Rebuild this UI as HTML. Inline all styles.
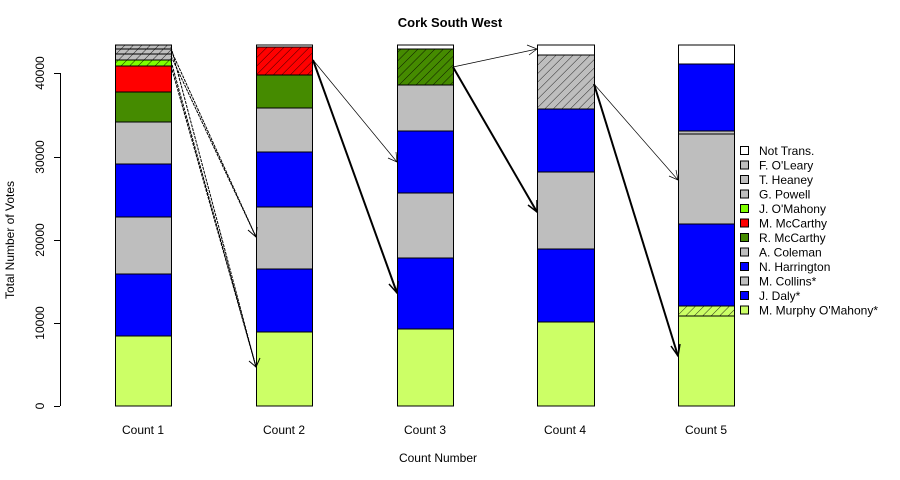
<!DOCTYPE html>
<html><head><meta charset="utf-8"><style>
body{margin:0;background:#fff;}
svg{display:block;font-family:"Liberation Sans",Arial,sans-serif;}
</style></head><body>
<svg width="900" height="480" viewBox="0 0 900 480" xmlns="http://www.w3.org/2000/svg">
<defs>
<pattern id="h" width="6" height="6" patternUnits="userSpaceOnUse" patternTransform="rotate(45)">
<line x1="0" y1="0" x2="0" y2="6" stroke="#000" stroke-width="0.8"/>
</pattern>
</defs>
<text x="450" y="27" font-size="13" font-weight="bold" text-anchor="middle">Cork South West</text>
<!-- axis -->
<g stroke="#000" stroke-width="1" fill="none">
<line x1="60.5" y1="73" x2="60.5" y2="406"/>
<line x1="54" y1="406.5" x2="60" y2="406.5"/>
<line x1="54" y1="323.5" x2="60" y2="323.5"/>
<line x1="54" y1="240.5" x2="60" y2="240.5"/>
<line x1="54" y1="157.5" x2="60" y2="157.5"/>
<line x1="54" y1="73.5" x2="60" y2="73.5"/>
</g>
<g font-size="12" text-anchor="middle">
<text transform="translate(44,406) rotate(-90)">0</text>
<text transform="translate(44,323) rotate(-90)">10000</text>
<text transform="translate(44,240) rotate(-90)">20000</text>
<text transform="translate(44,157) rotate(-90)">30000</text>
<text transform="translate(44,73) rotate(-90)">40000</text>
<text transform="translate(14,240) rotate(-90)">Total Number of Votes</text>
<text x="143" y="434">Count 1</text>
<text x="284" y="434">Count 2</text>
<text x="425" y="434">Count 3</text>
<text x="565" y="434">Count 4</text>
<text x="706" y="434">Count 5</text>
<text x="438" y="462">Count Number</text>
</g>
<g stroke="#000" stroke-width="1">
<!-- Count 1 -->
<rect x="115.5" y="336" width="56" height="70" fill="#ccff66"/>
<rect x="115.5" y="274" width="56" height="62" fill="#0000ff"/>
<rect x="115.5" y="217" width="56" height="57" fill="#bebebe"/>
<rect x="115.5" y="164" width="56" height="53" fill="#0000ff"/>
<rect x="115.5" y="122" width="56" height="42" fill="#bebebe"/>
<rect x="115.5" y="92" width="56" height="30" fill="#458b00"/>
<rect x="115.5" y="66" width="56" height="26" fill="#ff0000"/>
<rect x="115.5" y="60" width="56" height="6" fill="#7fff00"/>
<rect x="115.5" y="60" width="56" height="6" fill="url(#h)"/>
<rect x="115.5" y="54" width="56" height="6" fill="#bebebe"/>
<rect x="115.5" y="54" width="56" height="6" fill="url(#h)"/>
<rect x="115.5" y="49" width="56" height="5" fill="#bebebe"/>
<rect x="115.5" y="49" width="56" height="5" fill="url(#h)"/>
<rect x="115.5" y="45" width="56" height="4" fill="#bebebe"/>
<rect x="115.5" y="45" width="56" height="4" fill="url(#h)"/>
<!-- Count 2 -->
<rect x="256.5" y="332" width="56" height="74" fill="#ccff66"/>
<rect x="256.5" y="269" width="56" height="63" fill="#0000ff"/>
<rect x="256.5" y="207" width="56" height="62" fill="#bebebe"/>
<rect x="256.5" y="152" width="56" height="55" fill="#0000ff"/>
<rect x="256.5" y="108" width="56" height="44" fill="#bebebe"/>
<rect x="256.5" y="75" width="56" height="33" fill="#458b00"/>
<rect x="256.5" y="47" width="56" height="28" fill="#ff0000"/>
<rect x="256.5" y="47" width="56" height="28" fill="url(#h)"/>
<rect x="256.5" y="45" width="56" height="2" fill="#fff"/>
<!-- Count 3 -->
<rect x="397.5" y="329" width="56" height="77" fill="#ccff66"/>
<rect x="397.5" y="258" width="56" height="71" fill="#0000ff"/>
<rect x="397.5" y="193" width="56" height="65" fill="#bebebe"/>
<rect x="397.5" y="131" width="56" height="62" fill="#0000ff"/>
<rect x="397.5" y="85" width="56" height="46" fill="#bebebe"/>
<rect x="397.5" y="49" width="56" height="36" fill="#458b00"/>
<rect x="397.5" y="49" width="56" height="36" fill="url(#h)"/>
<rect x="397.5" y="45" width="56" height="4" fill="#fff"/>
<!-- Count 4 -->
<rect x="537.5" y="322" width="57" height="84" fill="#ccff66"/>
<rect x="537.5" y="249" width="57" height="73" fill="#0000ff"/>
<rect x="537.5" y="172" width="57" height="77" fill="#bebebe"/>
<rect x="537.5" y="109" width="57" height="63" fill="#0000ff"/>
<rect x="537.5" y="55" width="57" height="54" fill="#bebebe"/>
<rect x="537.5" y="55" width="57" height="54" fill="url(#h)"/>
<rect x="537.5" y="45" width="57" height="10" fill="#fff"/>
<!-- Count 5 -->
<rect x="678.5" y="316" width="56" height="90" fill="#ccff66"/>
<rect x="678.5" y="306" width="56" height="10" fill="#ccff66"/>
<rect x="678.5" y="306" width="56" height="10" fill="url(#h)"/>
<rect x="678.5" y="224" width="56" height="82" fill="#0000ff"/>
<rect x="678.5" y="134" width="56" height="90" fill="#bebebe"/>
<rect x="678.5" y="131" width="56" height="3" fill="#bebebe"/>
<rect x="678.5" y="64" width="56" height="67" fill="#0000ff"/>
<rect x="678.5" y="45" width="56" height="19" fill="#fff"/>
</g>
<!-- arrows -->
<g stroke="#000" fill="none">
<g stroke-dasharray="3,1" stroke-width="1">
<line x1="171" y1="50" x2="256" y2="237"/>
<line x1="171" y1="56" x2="256" y2="237"/>
<line x1="171" y1="61" x2="256" y2="367"/>
<line x1="171" y1="66" x2="256" y2="367"/>
<line x1="171" y1="47" x2="256" y2="367"/>
</g>
<polyline points="248,230 256,237 257,227"/>
<polyline points="249,361 256,367 260,358"/>
<line x1="313" y1="60" x2="397" y2="162" stroke-width="0.7"/>
<polyline points="388,158 397,162 396,152" stroke-width="0.7"/>
<line x1="313" y1="60" x2="397" y2="293" stroke-width="2"/>
<polyline points="389,284 397,293 398,281" stroke-width="1.5"/>
<line x1="453" y1="67" x2="537" y2="49" stroke-width="0.7"/>
<polyline points="527,45 537,49 529,55" stroke-width="0.7"/>
<line x1="453" y1="67" x2="537" y2="212" stroke-width="2"/>
<polyline points="528,205 537,212 537,200" stroke-width="1.5"/>
<line x1="594" y1="84" x2="678" y2="180" stroke-width="0.7"/>
<polyline points="669,176 678,180 676,170" stroke-width="0.7"/>
<line x1="594" y1="84" x2="678" y2="356" stroke-width="2"/>
<polyline points="671,346 678,356 680,344" stroke-width="1.5"/>
</g>
<!-- legend -->
<g stroke="#000" stroke-width="1" font-size="12">
<rect x="740.5" y="146.5" width="8" height="8" fill="#fff"/>
<rect x="740.5" y="161" width="8" height="8" fill="#bebebe"/>
<rect x="740.5" y="175.5" width="8" height="8" fill="#bebebe"/>
<rect x="740.5" y="190" width="8" height="8" fill="#bebebe"/>
<rect x="740.5" y="204.5" width="8" height="8" fill="#7fff00"/>
<rect x="740.5" y="219" width="8" height="8" fill="#ff0000"/>
<rect x="740.5" y="233.5" width="8" height="8" fill="#458b00"/>
<rect x="740.5" y="248" width="8" height="8" fill="#bebebe"/>
<rect x="740.5" y="262.5" width="8" height="8" fill="#0000ff"/>
<rect x="740.5" y="277" width="8" height="8" fill="#bebebe"/>
<rect x="740.5" y="291.5" width="8" height="8" fill="#0000ff"/>
<rect x="740.5" y="306" width="8" height="8" fill="#ccff66"/>
<g stroke="none" fill="#000">
<text x="759" y="155">Not Trans.</text>
<text x="759" y="169.5">F. O'Leary</text>
<text x="759" y="184">T. Heaney</text>
<text x="759" y="198.5">G. Powell</text>
<text x="759" y="213">J. O'Mahony</text>
<text x="759" y="227.5">M. McCarthy</text>
<text x="759" y="242">R. McCarthy</text>
<text x="759" y="256.5">A. Coleman</text>
<text x="759" y="271">N. Harrington</text>
<text x="759" y="285.5">M. Collins*</text>
<text x="759" y="300">J. Daly*</text>
<text x="759" y="314.5">M. Murphy O'Mahony*</text>
</g>
</g>
</svg>
</body></html>
